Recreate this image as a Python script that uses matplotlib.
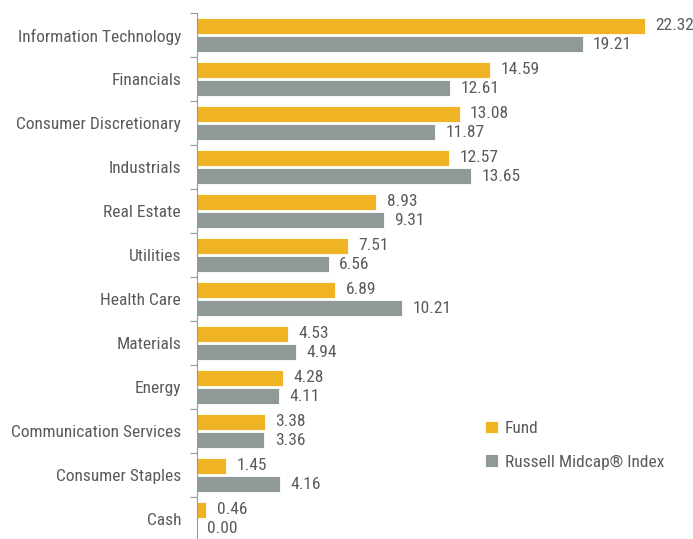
import matplotlib
matplotlib.use("Agg")
import matplotlib.pyplot as plt
import numpy as np

categories = ["Information Technology", "Financials", "Consumer Discretionary", "Industrials",
              "Real Estate", "Utilities", "Health Care", "Materials", "Energy",
              "Communication Services", "Consumer Staples", "Cash"]
fund = [22.32, 14.59, 13.08, 12.57, 8.93, 7.51, 6.89, 4.53, 4.28, 3.38, 1.45, 0.46]
index = [19.21, 12.61, 11.87, 13.65, 9.31, 6.56, 10.21, 4.94, 4.11, 3.36, 4.16, 0.00]
series_names = ["Fund", "Russell Midcap\u00ae Index"]

GOLD = "#F0B323"
GRAY = "#8F9A98"
TXT = "#5a5a5a"
FS = 12.5

plt.rcParams['font.family'] = ['Roboto Condensed', 'DejaVu Sans']

fig = plt.figure(figsize=(6.93, 5.39), dpi=100)
W, H = 693, 539
ax = fig.add_axes([197 / W, (539 - 541) / H, (693 - 197) / W, (541 - 13) / H])

y = np.arange(len(categories))
h = 0.38
off = 0.205
b1 = ax.barh(y - off, fund, height=h, color=GOLD, edgecolor="white", linewidth=0.6, label=series_names[0])
b2 = ax.barh(y + off, index, height=h, color=GRAY, edgecolor="white", linewidth=0.6, label=series_names[1])
ax.bar_label(b1, labels=[f"{v:.2f}" for v in fund], padding=7.5, fontsize=FS, color=TXT)
ax.bar_label(b2, labels=[f"{v:.2f}" for v in index], padding=7.5, fontsize=FS, color=TXT)

ax.set_xlim(0, (693 - 197) / 20.07)
ax.set_ylim(len(categories) - 0.5, -0.5)
ax.set_yticks(y)
ax.set_yticklabels(categories, fontsize=FS, color=TXT)
ax.tick_params(axis='y', which='major', length=0, pad=11.5)
ax.set_yticks(np.arange(-0.5, len(categories), 1), minor=True)
ax.tick_params(axis='y', which='minor', length=5, width=0.8, color="#9a9a9a", direction='out')
ax.xaxis.set_visible(False)
for s in ["top", "right", "bottom"]:
    ax.spines[s].set_visible(False)
ax.spines["left"].set_color("#9a9a9a")
ax.spines["left"].set_linewidth(0.8)

leg = fig.legend(handles=[b1, b2], loc="upper left", bbox_to_anchor=(469 / W, 1 - 405 / H),
                 frameon=False, fontsize=FS, handlelength=0.75, handleheight=0.75,
                 handletextpad=0.4, labelspacing=1.05, labelcolor=TXT)

fig.savefig("out.png", dpi=100)
